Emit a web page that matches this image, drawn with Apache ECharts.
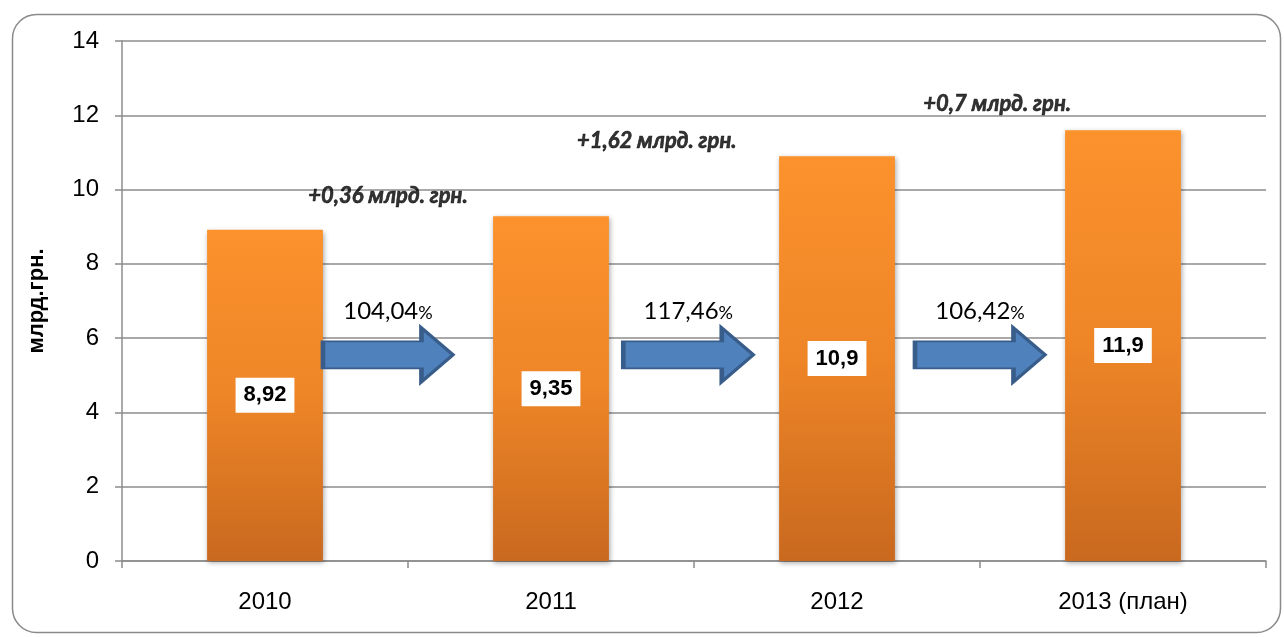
<!DOCTYPE html>
<html>
<head>
<meta charset="utf-8">
<script src="https://cdn.jsdelivr.net/npm/echarts@6/dist/echarts.min.js"></script>
<style>
  html, body { margin: 0; padding: 0; background: #fff; }
  #chart { width: 1284px; height: 637px; }
</style>
</head>
<body>
<div id="chart"></div>
<script>
// категории и значения
var years = ["2010", "2011", "2012", "2013 (план)"];
var amounts = [8.92, 9.28, 10.9, 11.6];           // высота столбцов, млрд. грн.
var amountLabels = ["8,92", "9,35", "10,9", "11,9"]; // подписи как на слайде
var growthPct = ["104,04", "117,46", "106,42"];
var increments = ["+0,36 млрд. грн.", "+1,62 млрд. грн.", "+0,7 млрд. грн."];

// куда ставить стрелки и надписи (в единицах осей)
var arrowAt = [[0.93, 5.55], [1.98, 5.55], [3.0, 5.55]];
var incrementAt = [[0.93, 9.83], [1.87, 11.31], [3.06, 12.3]];

var chart = echarts.init(document.getElementById("chart"));

var gridColor = "#8c8c8c";
var arrowPath = "path://M0,14 L100,14 L100,0 L132,28 L100,56 L100,42 L0,42 Z";

var option = {
  animation: false,
  backgroundColor: "#fff",
  graphic: [
    {
      type: "rect",
      left: 10,
      top: 12,
      shape: { width: 1268, height: 618, r: 24 },
      style: { fill: "none", stroke: "#8a8a8a", lineWidth: 1.5 },
      z: -10
    }
  ],
  grid: { left: 122, right: 18, top: 41, bottom: 76 },
  xAxis: [
    {
      type: "category",
      data: years,
      axisLine: { lineStyle: { color: gridColor, width: 1.5 } },
      axisTick: { show: true, interval: 0, length: 7, lineStyle: { color: gridColor, width: 1.5 } },
      axisLabel: { color: "#000", fontFamily: "Liberation Sans", fontSize: 24, margin: 29 }
    },
    { type: "value", min: 0, max: 4, show: false }
  ],
  yAxis: {
    type: "value",
    min: 0,
    max: 14,
    interval: 2,
    name: "млрд.грн.",
    nameLocation: "middle",
    nameGap: 74,
    nameTextStyle: { color: "#000", fontFamily: "Liberation Sans", fontSize: 22, fontWeight: "bold" },
    axisLine: { show: true, lineStyle: { color: gridColor, width: 1.5 } },
    axisTick: { show: true, length: 7, lineStyle: { color: gridColor, width: 1.5 } },
    axisLabel: { color: "#000", fontFamily: "Liberation Sans", fontSize: 24, margin: 23 },
    splitLine: { lineStyle: { color: gridColor, width: 1.5 } }
  },
  series: [
    {
      type: "bar",
      data: amounts,
      barWidth: "40.5%",
      itemStyle: {
        color: new echarts.graphic.LinearGradient(0, 0, 0, 1, [
          { offset: 0, color: "#fc922c" },
          { offset: 0.5, color: "#ee8527" },
          { offset: 1, color: "#c9691f" }
        ]),
        shadowBlur: 5,
        shadowColor: "rgba(0,0,0,0.35)",
        shadowOffsetX: 1,
        shadowOffsetY: 2
      },
      label: {
        show: true,
        position: "inside",
        formatter: function (p) { return amountLabels[p.dataIndex]; },
        color: "#000",
        backgroundColor: "#fff",
        fontFamily: "Liberation Sans",
        fontWeight: "bold",
        fontSize: 22,
        padding: [7, 8, 6, 8]
      },
      z: 2
    },
    {
      type: "scatter",
      xAxisIndex: 1,
      data: arrowAt,
      symbol: arrowPath,
      symbolSize: [130, 54],
      symbolKeepAspect: false,
      itemStyle: { color: "#4f81bd", borderColor: "#385d8a", borderWidth: 3, opacity: 1 },
      label: {
        show: true,
        position: "top",
        distance: 4,
        formatter: function (p) { return "{n|" + growthPct[p.dataIndex] + "}{s|%}"; },
        rich: {
          n: { fontFamily: "Lato", fontSize: 24, color: "#000" },
          s: { fontFamily: "Lato", fontSize: 18, color: "#000", padding: [4, 0, 0, 0] }
        }
      },
      z: 3
    },
    {
      type: "scatter",
      xAxisIndex: 1,
      data: incrementAt,
      symbolSize: 0,
      label: {
        show: true,
        position: "inside",
        formatter: function (p) { return increments[p.dataIndex]; },
        fontFamily: "Lato",
        fontStyle: "italic",
        fontWeight: "bold",
        fontSize: 22,
        color: "#000",
        textBorderColor: "#000",
        textBorderWidth: 0.6
      },
      z: 4
    }
  ]
};

chart.setOption(option);
</script>
</body>
</html>
